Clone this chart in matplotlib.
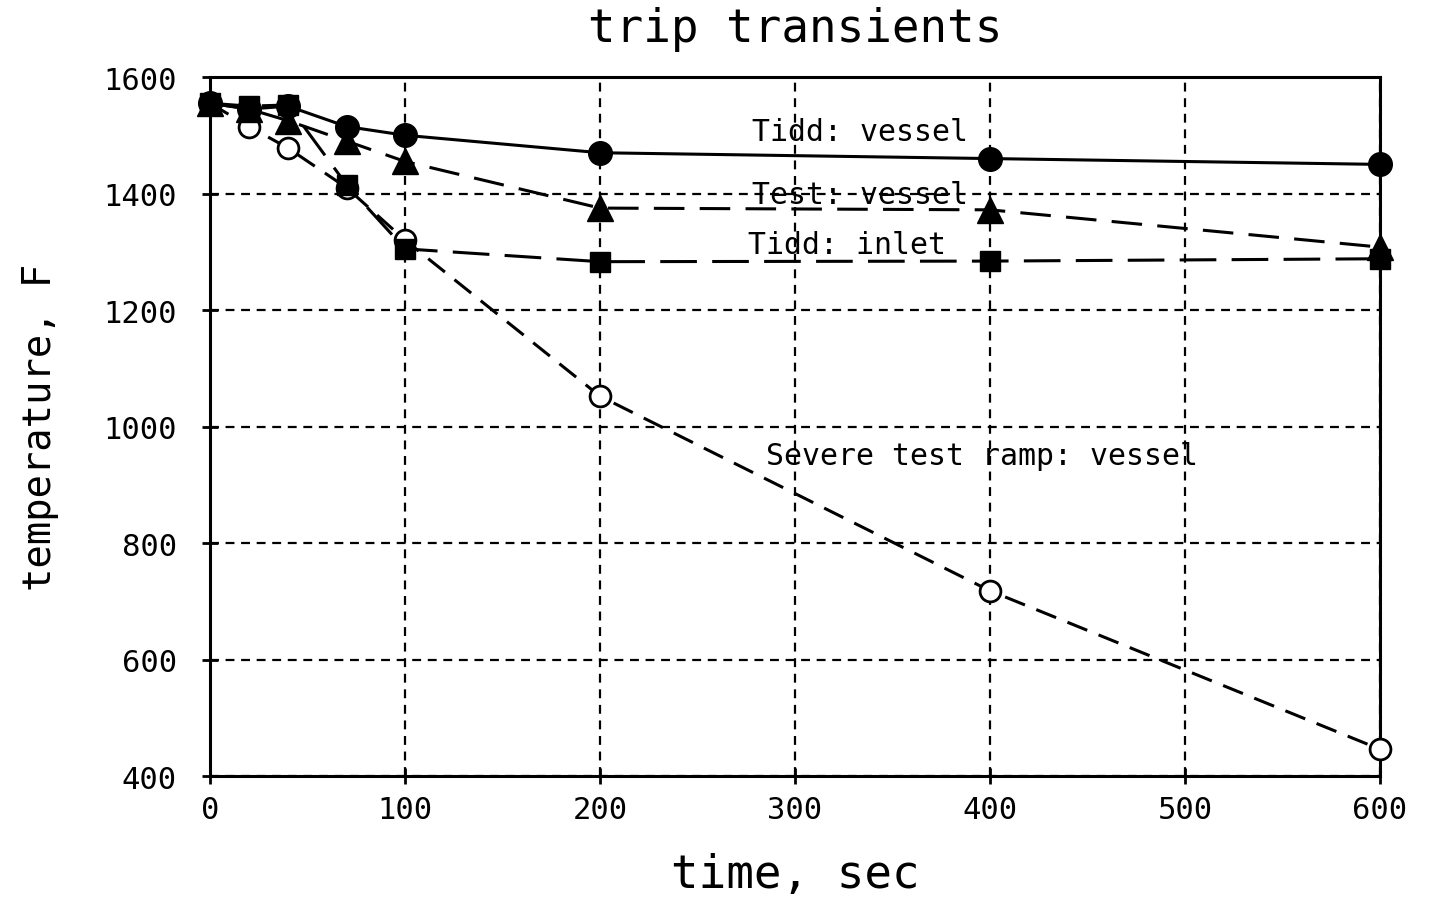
import matplotlib
matplotlib.use("Agg")
import matplotlib.pyplot as plt

# ---------------------------------------------------------------------------
# data (time in s, temperature in F)
# ---------------------------------------------------------------------------
times = [0, 20, 40, 70, 100, 200, 400, 600]
tidd_vessel = [1555, 1545, 1550, 1515, 1500, 1470, 1460, 1450]
test_vessel = [1555, 1545, 1525, 1490, 1455, 1375, 1372, 1308]
tidd_inlet = [1555, 1550, 1552, 1415, 1305, 1283, 1284, 1288]
severe_ramp = [1555, 1515, 1478, 1410, 1320, 1052, 718, 446]

x_ticks = [0, 100, 200, 300, 400, 500, 600]
y_ticks = [400, 600, 800, 1000, 1200, 1400, 1600]

labels = ["Tidd: vessel", "Test: vessel", "Tidd: inlet", "Severe test ramp: vessel"]
label_pos = [(278, 1506), (278, 1399), (276, 1313), (285, 951)]

plt.rcParams['font.family'] = ['DejaVu Sans Mono']

fig = plt.figure(figsize=(14.29, 9.03), dpi=100)
ax = fig.add_axes([0.147, 0.1395, 0.8187, 0.7741])

lw = 2.2
ax.plot(times, severe_ramp, color='black', lw=lw, ls=(0, (7, 4)),
        marker='o', ms=15, mfc='white', mec='black', mew=2, zorder=3, clip_on=False)
ax.plot(times, tidd_inlet, color='black', lw=lw, ls=(0, (12, 5)),
        marker='s', ms=15, mfc='black', mec='black', zorder=4, clip_on=False)
ax.plot(times, test_vessel, color='black', lw=lw, ls=(0, (10, 5)),
        marker='^', ms=19, mfc='black', mec='black', zorder=5, clip_on=False)
ax.plot(times, tidd_vessel, color='black', lw=lw, ls='-',
        marker='o', ms=17, mfc='black', mec='black', zorder=6, clip_on=False)

for txt, (tx, ty) in zip(labels, label_pos):
    ax.text(tx, ty, txt, fontsize=21.5, va='center', ha='left', zorder=7)

ax.set_xlim(0, 600)
ax.set_ylim(400, 1600)
ax.set_xticks(x_ticks)
ax.set_yticks(y_ticks)
ax.grid(True, color='black', ls=(0, (4, 3)), lw=1.6)
ax.set_axisbelow(True)

for sp in ax.spines.values():
    sp.set_linewidth(2.2)
ax.tick_params(direction='inout', length=12, width=2, labelsize=22)
ax.tick_params(axis='x', pad=8)
ax.tick_params(axis='y', pad=18)

ax.set_title("trip transients", fontsize=33, pad=26)
ax.set_xlabel("time, sec", fontsize=33, labelpad=20)
ax.set_ylabel("temperature, F", fontsize=28, labelpad=32)

fig.savefig("out.png", dpi=100)
plt.close(fig)
